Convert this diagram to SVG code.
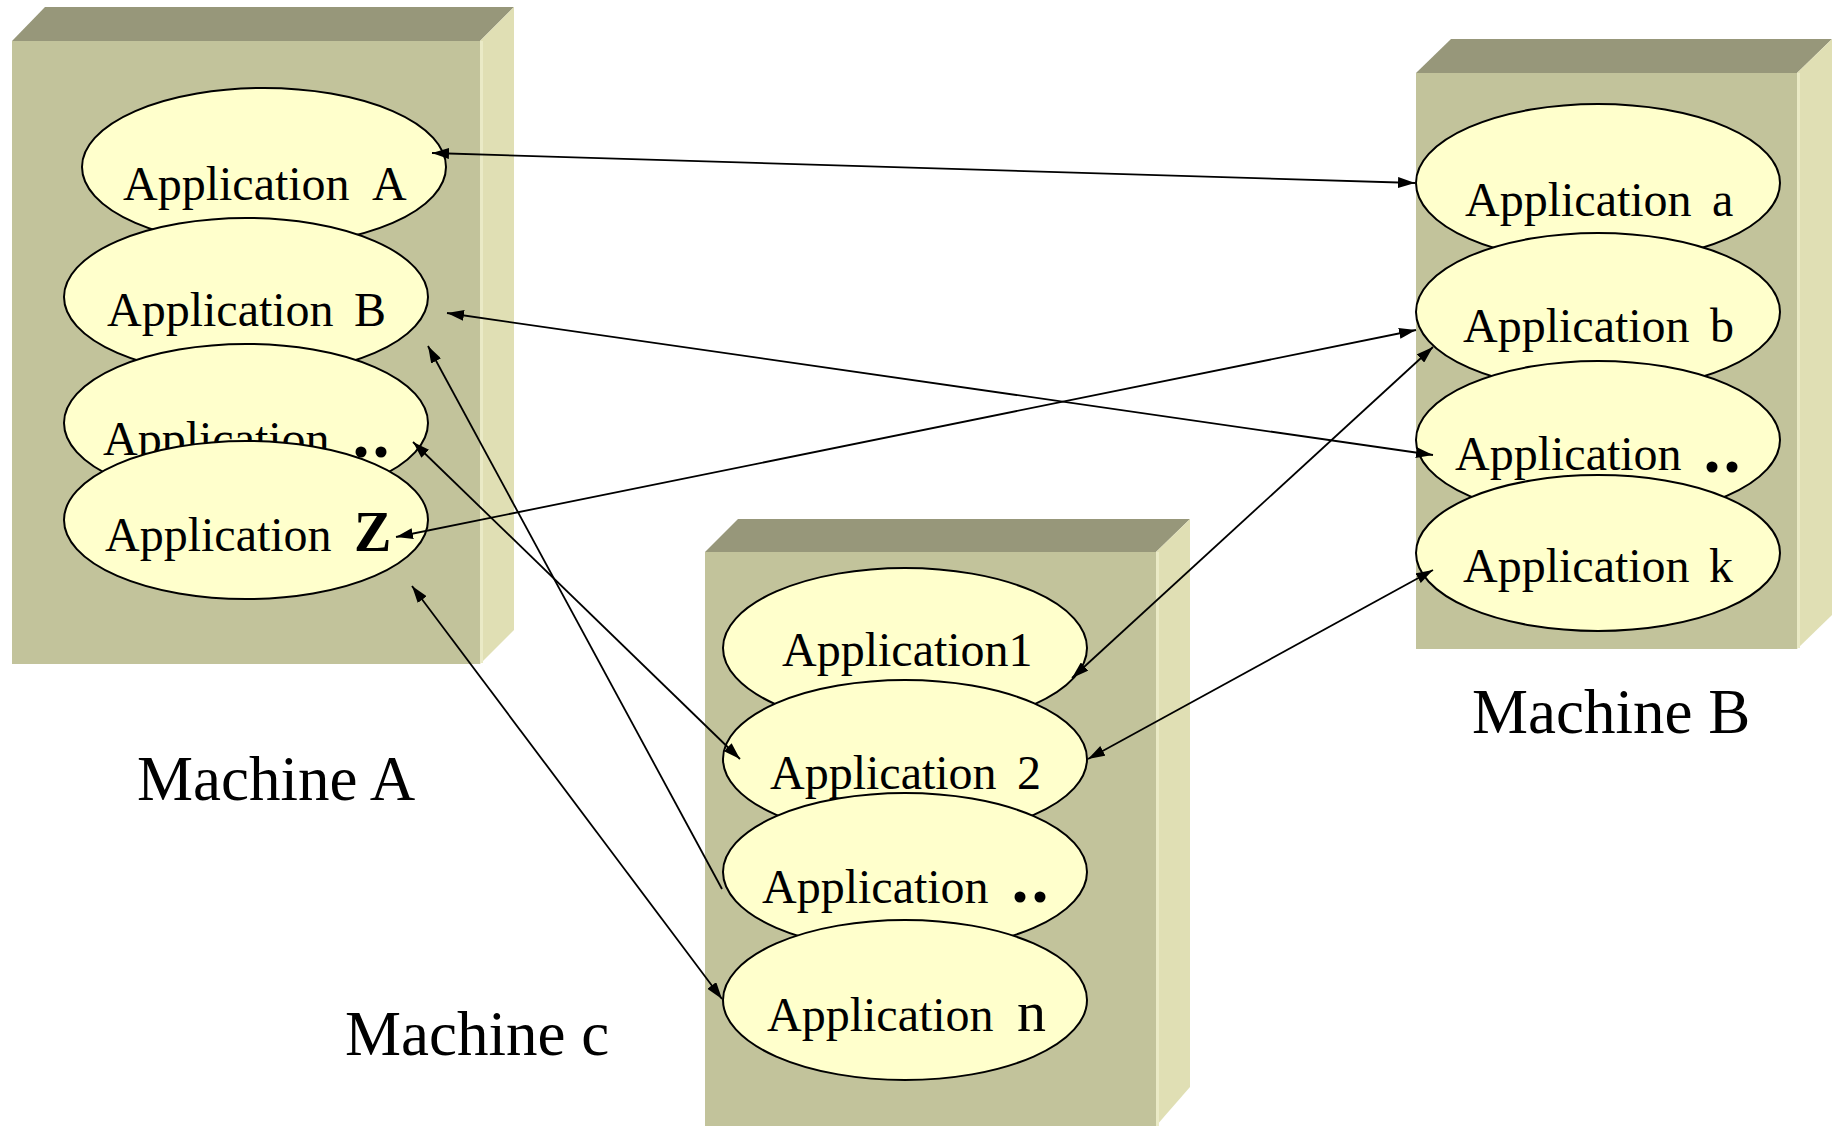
<svg xmlns="http://www.w3.org/2000/svg" width="1837" height="1126" viewBox="0 0 1837 1126">
<defs>
<style>
.front{fill:#C2C39B}
.top{fill:#97977A}
.side{fill:#E0DFB4}
.edge{stroke:#EAEAC6;stroke-width:3;fill:none}
.app{fill:#FFFFCC;stroke:#000;stroke-width:2}
.t{font-family:"Liberation Serif","Times New Roman",serif;font-size:48px;fill:#000}
.big{font-size:56px;font-weight:bold}
.dots{font-size:68px;font-weight:bold;letter-spacing:3px}
.lbl{font-family:"Liberation Serif","Times New Roman",serif;font-size:63px;fill:#000}
.conn line{stroke:#000;stroke-width:1.8;fill:none}
</style>
<marker id="ah" viewBox="0 0 17 11" refX="17" refY="5.5" markerWidth="17" markerHeight="11" markerUnits="userSpaceOnUse" orient="auto-start-reverse">
<path d="M0,0 L17,5.5 L0,11 z" fill="#000"/>
</marker>
</defs>
<rect width="1837" height="1126" fill="#fff"/>

<g id="machineA">
<rect class="front" x="12" y="41" width="468" height="623"/>
<polygon class="top" points="12,41 45,7 514,7 480,41"/>
<polygon class="side" points="480,41 514,7 514,630 480,664"/>
<line class="edge" x1="481.5" y1="41" x2="481.5" y2="663"/>
<g id="appA"><ellipse class="app" cx="264" cy="167" rx="182" ry="79"/><text class="t" x="123" y="200">Application<tspan x="372">A</tspan></text></g>
<g id="appB"><ellipse class="app" cx="246" cy="297" rx="182" ry="79"/><text class="t" x="107" y="326">Application<tspan x="354">B</tspan></text></g>
<g id="appAdots"><ellipse class="app" cx="246" cy="423" rx="182" ry="79"/><text class="t" x="103" y="455">Application<tspan class="dots" x="352.5" y="457">..</tspan></text></g>
<g id="appZ"><ellipse class="app" cx="246" cy="520" rx="182" ry="79"/><text class="t" x="105" y="551">Application<tspan class="big" x="354" font-size="54">Z</tspan></text></g>
<text class="lbl" x="137" y="800">Machine A</text>
</g>

<g id="machineB">
<rect class="front" x="1416" y="73" width="381" height="576"/>
<polygon class="top" points="1416,73 1451,39 1832,39 1797,73"/>
<polygon class="side" points="1797,73 1832,39 1832,615 1797,649"/>
<line class="edge" x1="1798.5" y1="73" x2="1798.5" y2="648"/>
<g id="appa"><ellipse class="app" cx="1598" cy="183" rx="182" ry="79"/><text class="t" x="1465" y="216">Application<tspan x="1712">a</tspan></text></g>
<g id="appb"><ellipse class="app" cx="1598" cy="312" rx="182" ry="79"/><text class="t" x="1463" y="342">Application<tspan x="1710">b</tspan></text></g>
<g id="appBdots"><ellipse class="app" cx="1598" cy="440" rx="182" ry="79"/><text class="t" x="1455" y="470">Application<tspan class="dots" x="1703.5" y="472">..</tspan></text></g>
<g id="appk"><ellipse class="app" cx="1598" cy="553" rx="182" ry="78"/><text class="t" x="1463" y="582">Application<tspan x="1709">k</tspan></text></g>
<text class="lbl" x="1472" y="733">Machine B</text>
</g>

<g id="machineC">
<rect class="front" x="705" y="552" width="451" height="580"/>
<polygon class="top" points="705,552 738,519 1190,519 1156,552"/>
<polygon class="side" points="1156,552 1190,519 1190,1087 1156,1126"/>
<line class="edge" x1="1157.5" y1="552" x2="1157.5" y2="1126"/>
<g id="app1"><ellipse class="app" cx="905" cy="648" rx="182" ry="80"/><text class="t" x="782" y="666">Application1</text></g>
<g id="app2"><ellipse class="app" cx="905" cy="759" rx="182" ry="79"/><text class="t" x="770" y="789">Application<tspan x="1017">2</tspan></text></g>
<g id="appCdots"><ellipse class="app" cx="905" cy="872" rx="182" ry="79"/><text class="t" x="762" y="903">Application<tspan class="dots" x="1011.5" y="902">..</tspan></text></g>
<g id="appn"><ellipse class="app" cx="905" cy="1000" rx="182" ry="80"/><text class="t" x="767" y="1031">Application<tspan x="1017" font-size="58">n</tspan></text></g>
<text class="lbl" x="345" y="1055">Machine c</text>
</g>

<g id="connectors" class="conn">
<line x1="432" y1="153" x2="1415" y2="183" marker-start="url(#ah)" marker-end="url(#ah)"/>
<line x1="447" y1="313" x2="1433" y2="455" marker-start="url(#ah)" marker-end="url(#ah)"/>
<line x1="396" y1="537" x2="1416" y2="330" marker-start="url(#ah)" marker-end="url(#ah)"/>
<line x1="413" y1="442" x2="740" y2="759" marker-start="url(#ah)" marker-end="url(#ah)"/>
<line x1="428" y1="346" x2="722" y2="889" marker-start="url(#ah)"/>
<line x1="412" y1="586" x2="722" y2="999" marker-start="url(#ah)" marker-end="url(#ah)"/>
<line x1="1072" y1="678" x2="1433" y2="347" marker-start="url(#ah)" marker-end="url(#ah)"/>
<line x1="1088" y1="759" x2="1433" y2="570" marker-start="url(#ah)" marker-end="url(#ah)"/>
</g>
</svg>
